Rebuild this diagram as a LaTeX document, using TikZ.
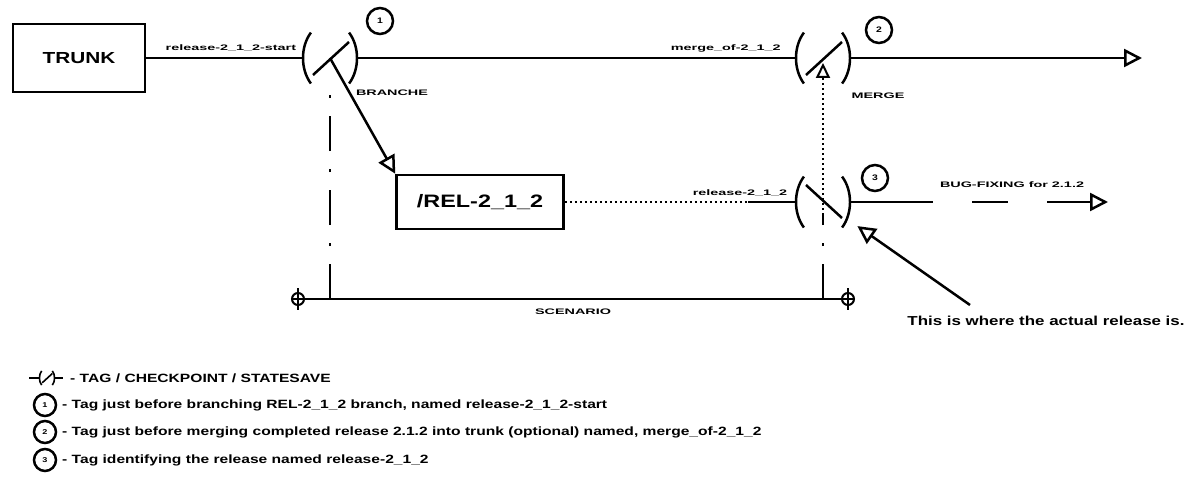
\documentclass[tikz,border=0pt]{standalone}
\usepackage{fontspec}
\usetikzlibrary{arrows.meta, positioning}
\newfontfamily\diagfont[FakeStretch=1.3]{Liberation Sans}
\newfontfamily\widefont[FakeStretch=1.8]{Liberation Sans}
\tikzset{
  box/.style={rectangle, draw, line width=2.5pt, inner sep=0pt,
    font=\diagfont\bfseries\fontsize{16}{16}\selectfont},
  wire/.style={line width=2.5pt},
  dotline/.style={line width=2pt, dash pattern=on 2pt off 3pt},
  dashdot/.style={line width=2pt, dash pattern=on 35pt off 18pt on 3pt off 18pt},
  openarrow/.style={-{Triangle[open, length=18pt, width=18pt]}, line width=2.5pt},
  tagnum/.style={circle, draw, line width=2.5pt, minimum size=26pt, inner sep=0pt,
    font=\diagfont\bfseries\fontsize{8}{8}\selectfont},
  legnum/.style={tagnum, minimum size=22pt, font=\diagfont\bfseries\fontsize{7}{7}\selectfont},
  taglabel/.style={inner sep=1pt, font=\widefont\bfseries\fontsize{8}{8}\selectfont},
  legend/.style={anchor=west, inner sep=0pt, font=\diagfont\bfseries\fontsize{12}{12}\selectfont},
  tagstroke/.style={line width=2.5pt},
  pics/tagmark/.style={code={
    \coordinate (-c) at (0,0);
    \coordinate (-w) at (-27,0);
    \coordinate (-e) at (27,0);
    \draw[tagstroke] (-19.1,25.5) arc[start angle=135, end angle=225, x radius=27, y radius=36];
    \draw[tagstroke] (19.1,25.5) arc[start angle=45, end angle=-45, x radius=27, y radius=36];
    \draw[tagstroke] ({-17},{17*(#1)}) -- (19,{-16*(#1)});
  }},
  pics/tagmark/.default=1,
  pics/crossmark/.style={code={
    \draw[line width=2pt] (0,0) circle[radius=6];
    \draw[line width=2pt] (0,-11) -- (0,11) (-6,0) -- (6,0);
  }}
}
\begin{document}
\begin{tikzpicture}[x=1pt, y=-1pt]
  \fill[white] (0,0) rectangle (1197,495);
  \useasboundingbox (0,0) rectangle (1197,495);

  % trunk line
  \node[box, minimum width=132, minimum height=68] (trunk) at (79,58) {TRUNK};
  \pic (tag1) at (330,58) {tagmark};
  \pic (tag2) at (823,58) {tagmark};
  \node[tagnum] (num1) at (380,21) {1};
  \node[tagnum] (num2) at (879,30) {2};
  \coordinate (trunkend) at (1142,58);
  \draw[wire] (trunk) -- node[taglabel, above=4pt, pos=0.54] (startlbl) {release-2\_1\_2-start} (tag1-w);
  \draw[wire] (tag1-e) -- node[taglabel, above=4pt, pos=0.84] (mergeoflbl) {merge\_of-2\_1\_2} (tag2-w);
  \draw[openarrow] (tag2-e) -- (trunkend);
  \node[taglabel] (branchlbl) at (392,93) {BRANCHE};
  \node[taglabel] (mergelbl) at (878,96) {MERGE};

  % release branch
  \node[box, minimum width=167, minimum height=54,
    font=\diagfont\bfseries\fontsize{18}{18}\selectfont] (rel) at (480,202) {/REL-2\_1\_2};
  \pic (tag3) at (823,202) {tagmark=-1};
  \node[tagnum] (num3) at (875,178) {3};
  \draw[openarrow] (tag1-c) -- (rel.north west);
  \coordinate (relstub) at (748,202);
  \draw[dotline] (rel) -- (relstub);
  \draw[wire] (relstub) -- (tag3-w);
  \node[taglabel, above=4pt, xshift=-8pt] (rellbl) at (relstub) {release-2\_1\_2};
  \coordinate (fixend) at (1108,202);
  \draw[openarrow, dash pattern=on 83pt off 39pt on 36pt off 39pt on 80pt] (tag3-e) -- (fixend);
  \node[taglabel] (fixlbl) at (1012,185) {BUG-FIXING for 2.1.2};
  \draw[dotline, -{Triangle[open, length=15pt, width=14pt]}] ([yshift=-13pt]tag3-c) -- ([yshift=-5pt]tag2-c);

  % scenario
  \coordinate (scenL) at (298,299);
  \coordinate (scenR) at (848,299);
  \pic at (scenL) {crossmark};
  \pic at (scenR) {crossmark};
  \draw[wire] (scenL) -- node[taglabel, below=8pt] (scenlbl) {SCENARIO} (scenR);
  \draw[dashdot] (tag1-c |- scenL) -- ([yshift=-34pt]tag1-c);
  \draw[dashdot] (tag3-c |- scenL) -- ([yshift=-13pt]tag3-c);

  % note
  \node[legend, anchor=center, font=\diagfont\bfseries\fontsize{13}{13}\selectfont] (note) at (1046,321) {This is where the actual release is.};
  \coordinate (notefoot) at (970,305);
  \draw[openarrow, shorten >=42pt] (notefoot) -- (tag3-c);

  % legend
  \pic[scale=0.28, tagstroke/.style={line width=1.6pt}] (key) at (47,378) {tagmark};
  \draw[line width=1.6pt] (key-w) -- ++(-10,0) (key-e) -- ++(8,0);
  \node[legend] (keytxt) at (70,378) {- TAG / CHECKPOINT / STATESAVE};
  \node[legnum] (key1) at (45,405) {1};
  \node[legend] (key1txt) at (62,405) {- Tag just before branching REL-2\_1\_2 branch, named release-2\_1\_2-start};
  \node[legnum] (key2) at (45,432) {2};
  \node[legend] (key2txt) at (62,432) {- Tag just before merging completed release 2.1.2 into trunk (optional) named, merge\_of-2\_1\_2};
  \node[legnum] (key3) at (45,460) {3};
  \node[legend] (key3txt) at (62,460) {- Tag identifying the release named release-2\_1\_2};
\end{tikzpicture}
\end{document}
